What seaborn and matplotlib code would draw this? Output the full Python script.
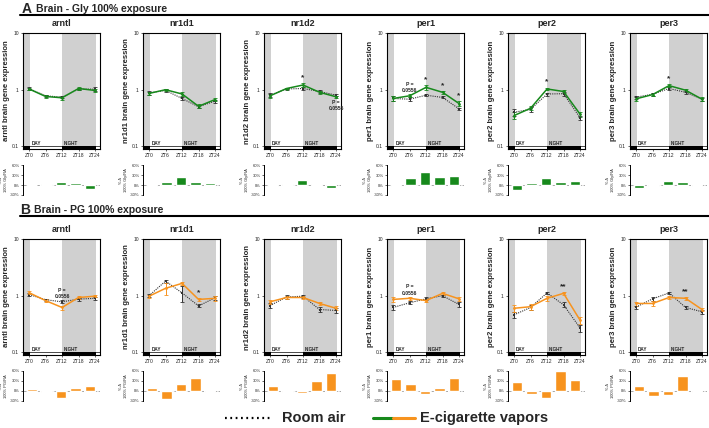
import numpy as np
import pandas as pd
import seaborn as sns
import matplotlib.pyplot as plt
from matplotlib.lines import Line2D
from matplotlib.ticker import NullLocator

sns.set_style("white")
plt.rcParams['font.family'] = ['Liberation Sans', 'DejaVu Sans']

# data
genes = ['arntl', 'nr1d1', 'nr1d2', 'per1', 'per2', 'per3']
zt = [0, 6, 12, 18, 24]
zt_labels = ['ZT0', 'ZT6', 'ZT12', 'ZT18', 'ZT24']

# A - Gly 100% exposure
gly_room = [[1.05, 0.78, 0.74, 1.03, 1.02],
            [0.88, 0.97, 0.70, 0.50, 0.63],
            [0.80, 1.03, 1.05, 0.93, 0.80],
            [0.70, 0.68, 0.80, 0.73, 0.46],
            [0.40, 0.45, 0.84, 0.85, 0.32],
            [0.74, 0.83, 1.05, 0.90, 0.68]]
gly_vape = [[1.03, 0.76, 0.72, 1.05, 0.97],
            [0.86, 1.00, 0.84, 0.51, 0.67],
            [0.78, 1.05, 1.21, 0.90, 0.75],
            [0.70, 0.78, 1.10, 0.90, 0.57],
            [0.35, 0.47, 1.03, 0.93, 0.37],
            [0.69, 0.82, 1.18, 0.98, 0.68]]
gly_room_err = [[0.05, 0.04, 0.04, 0.05, 0.08],
                [0.06, 0.05, 0.05, 0.03, 0.04],
                [0.06, 0.04, 0.05, 0.06, 0.04],
                [0.06, 0.05, 0.03, 0.03, 0.02],
                [0.05, 0.04, 0.05, 0.06, 0.03],
                [0.05, 0.05, 0.06, 0.06, 0.04]]
gly_vape_err = [[0.05, 0.04, 0.05, 0.05, 0.07],
                [0.05, 0.05, 0.06, 0.04, 0.05],
                [0.07, 0.04, 0.09, 0.06, 0.04],
                [0.07, 0.05, 0.10, 0.06, 0.05],
                [0.05, 0.04, 0.06, 0.05, 0.04],
                [0.06, 0.05, 0.08, 0.06, 0.05]]
gly_pct = [[1, 2, 8, 6, -13],
           [-3, 8, 25, 8, 7],
           [-2, 3, 15, 2, -8],
           [-3, 20, 40, 23, 27],
           [-15, 7, 22, 8, 12],
           [-8, -2, 12, 8, -2]]
gly_marks = [('nr1d2', 12, '*'), ('per1', 12, '*'), ('per1', 18, '*'),
             ('per1', 24, '*'), ('per2', 12, '*'), ('per3', 12, '*')]
gly_pvals = [('nr1d2', 24, 'below'), ('per1', 6, 'above')]

# B - PG 100% exposure
pg_room = [[1.05, 0.85, 0.78, 0.87, 0.90],
           [1.00, 1.81, 1.12, 0.66, 0.92],
           [0.67, 0.95, 0.98, 0.57, 0.55],
           [0.62, 0.75, 0.88, 1.00, 0.70],
           [0.46, 0.62, 1.12, 0.69, 0.27],
           [0.63, 0.88, 1.12, 0.62, 0.52]]
pg_vape = [[1.13, 0.82, 0.62, 0.93, 0.98],
           [0.98, 1.35, 1.65, 0.86, 0.90],
           [0.78, 0.93, 0.93, 0.73, 0.60],
           [0.86, 0.90, 0.82, 1.10, 0.88],
           [0.60, 0.64, 0.90, 1.10, 0.37],
           [0.73, 0.73, 0.93, 0.90, 0.57]]
pg_room_err = [[0.06, 0.04, 0.05, 0.05, 0.05],
               [0.06, 0.12, 0.35, 0.04, 0.08],
               [0.06, 0.06, 0.06, 0.05, 0.05],
               [0.06, 0.05, 0.05, 0.05, 0.07],
               [0.05, 0.07, 0.05, 0.07, 0.04],
               [0.04, 0.07, 0.05, 0.04, 0.04]]
pg_vape_err = [[0.06, 0.04, 0.05, 0.05, 0.05],
               [0.06, 0.30, 0.10, 0.06, 0.10],
               [0.06, 0.06, 0.06, 0.05, 0.05],
               [0.07, 0.06, 0.05, 0.06, 0.08],
               [0.08, 0.08, 0.08, 0.07, 0.05],
               [0.06, 0.07, 0.06, 0.05, 0.04]]
pg_pct = [[5, -3, -20, 10, 15],
          [8, -25, 20, 40, -2],
          [15, -3, -5, 30, 55],
          [35, 20, -8, 8, 38],
          [28, -8, -20, 60, 32],
          [15, -15, -12, 45, -2]]
pg_marks = [('nr1d1', 18, '*'), ('per2', 18, '**'), ('per3', 18, '**')]
pg_pvals = [('arntl', 12, 'above'), ('per1', 6, 'above')]

green = '#17891c'
orange = '#f7931e'
shade = '#d0d0d0'
room_col = '#333333'

fig = plt.figure(figsize=(7.09, 4.28), dpi=100)
W, H = 709, 428
lefts = [23, 143, 264, 387, 508, 630]
pw = 77


def px_axes(x, top, w, h):
    return fig.add_axes([x / W, 1 - (top + h) / H, w / W, h / H])


def draw_row(top_y, bar_y, room, vape, room_err, vape_err, pct, color,
             marks, pvals, tag):
    for i, g in enumerate(genes):
        ax = px_axes(lefts[i], top_y, pw, 116)
        ax.axvspan(-2.2, 0.5, color=shade, lw=0, zorder=0)
        ax.axvspan(12, 24.4, color=shade, lw=0, zorder=0)
        # day / night strip
        ax.axvspan(-2.2, 25.8, ymin=0, ymax=0.03, facecolor='white',
                   edgecolor='black', lw=0.5)
        ax.axvspan(-2.2, 0.5, ymin=0, ymax=0.03, color='black', lw=0)
        ax.axvspan(12, 24.4, ymin=0, ymax=0.03, color='black', lw=0)
        ax.text(0.8, 0.103, 'DAY', fontsize=3.3, fontweight='bold', va='bottom')
        ax.text(12.5, 0.103, 'NIGHT', fontsize=3.3, fontweight='bold', va='bottom')

        df = pd.DataFrame({'ZT': zt, 'room': room[i], 'vape': vape[i]})
        ax.errorbar(zt, room[i], yerr=room_err[i], fmt='none', ecolor=room_col,
                    elinewidth=0.7, capsize=1.2, capthick=0.6)
        ax.errorbar(zt, vape[i], yerr=vape_err[i], fmt='none', ecolor=color,
                    elinewidth=0.7, capsize=1.2, capthick=0.6)
        sns.lineplot(data=df, x='ZT', y='room', ax=ax, color=room_col,
                     linestyle=(0, (1, 1)), lw=0.8, marker='s', ms=2,
                     markeredgewidth=0)
        sns.lineplot(data=df, x='ZT', y='vape', ax=ax, color=color, lw=1.1,
                     marker='o', ms=2, markeredgewidth=0)

        for gene, t, s in marks:
            if gene == g:
                j = zt.index(t)
                top = max(room[i][j] + room_err[i][j], vape[i][j] + vape_err[i][j])
                ax.text(t, top * 1.08, s, ha='center', va='bottom',
                        fontsize=6, fontweight='bold')
        for gene, t, where in pvals:
            if gene == g:
                j = zt.index(t)
                if where == 'above':
                    top = max(room[i][j], vape[i][j])
                    ax.text(t, top * 1.12, 'P =\n0.0556', ha='center',
                            va='bottom', fontsize=3.6, fontweight='bold',
                            linespacing=1.3)
                else:
                    low = min(room[i][j], vape[i][j])
                    ax.text(t, low * 0.88, 'P =\n0.0556', ha='center',
                            va='top', fontsize=3.6, fontweight='bold',
                            linespacing=1.3)

        ax.set_yscale('log')
        ax.set_ylim(0.09, 10)
        ax.set_xlim(-2.2, 25.8)
        ax.set_yticks([0.1, 1, 10])
        ax.set_yticklabels(['0.1', '1', '10'])
        ax.yaxis.set_minor_locator(NullLocator())
        ax.set_xticks(zt)
        ax.set_xticklabels(zt_labels)
        ax.tick_params(axis='both', labelsize=3.6, length=1.5, width=0.5, pad=1.5)
        ax.tick_params(axis='y', left=True)
        ax.tick_params(axis='x', bottom=True)
        for sp in ax.spines.values():
            sp.set_color('black')
            sp.set_linewidth(0.8)
        ax.set_xlabel('')
        ax.set_ylabel(f'{g} brain gene expression', fontsize=5.6,
                      fontweight='bold', labelpad=1.5)
        ax.set_title(g, fontsize=6.5, fontweight='bold', pad=5)

        # percent change bars
        bx = px_axes(lefts[i], bar_y, pw, 30)
        bdf = pd.DataFrame({'ZT': zt_labels, 'pct': pct[i]})
        sns.barplot(data=bdf, x='ZT', y='pct', ax=bx, color=color,
                    saturation=1, width=0.7)
        bx.axhline(0, color='#999999', lw=0.6, ls='--', zorder=0)
        bx.set_xlim(-0.62, 4.69)
        bx.set_ylim(-30, 60)
        bx.set_yticks([-30, 0, 30, 60])
        bx.set_yticklabels(['-30%', '0%', '30%', '60%'])
        bx.set_xticks([])
        bx.tick_params(axis='y', left=True, labelsize=3.0, length=1.5,
                       width=0.5, pad=1)
        for s in ['top', 'right', 'bottom']:
            bx.spines[s].set_visible(False)
        bx.spines['left'].set_linewidth(0.7)
        bx.spines['left'].set_color('black')
        bx.set_xlabel('')
        bx.set_ylabel(f'% Δ\n100% {tag}/RA', fontsize=2.9, labelpad=1.5,
                      linespacing=1.2)


# section headers
fig.text(22 / W, 1 - 9 / H, 'A', fontsize=10, fontweight='bold', va='center')
fig.text(36 / W, 1 - 9 / H, 'Brain - Gly 100% exposure', fontsize=7.5,
         fontweight='bold', va='center')
fig.add_artist(Line2D([20 / W, 1], [1 - 15 / H, 1 - 15 / H], color='black',
                      lw=1.5, transform=fig.transFigure))
fig.text(20 / W, 1 - 210 / H, 'B', fontsize=10, fontweight='bold', va='center')
fig.text(34 / W, 1 - 210 / H, 'Brain - PG 100% exposure', fontsize=7.5,
         fontweight='bold', va='center')
fig.add_artist(Line2D([20 / W, 1], [1 - 216 / H, 1 - 216 / H], color='black',
                      lw=1.5, transform=fig.transFigure))

draw_row(33, 165, gly_room, gly_vape, gly_room_err, gly_vape_err, gly_pct,
         green, gly_marks, gly_pvals, 'Gly')
draw_row(239, 371, pg_room, pg_vape, pg_room_err, pg_vape_err, pg_pct,
         orange, pg_marks, pg_pvals, 'PG')

# legend
ly = 1 - 418 / H
fig.add_artist(Line2D([225 / W, 272 / W], [ly, ly], color='black', lw=1.6,
                      linestyle=(0, (0.8, 1.6)), transform=fig.transFigure))
fig.text(282 / W, ly, 'Room air', fontsize=10.5, fontweight='bold', va='center')
fig.add_artist(Line2D([373 / W, 393 / W], [ly, ly], color=green, lw=2.2,
                      transform=fig.transFigure))
fig.add_artist(Line2D([393 / W, 415 / W], [ly, ly], color=orange, lw=2.2,
                      transform=fig.transFigure))
fig.text(420 / W, ly, 'E-cigarette vapors', fontsize=10.5, fontweight='bold',
         va='center')

fig.savefig('out.png', dpi=100)
